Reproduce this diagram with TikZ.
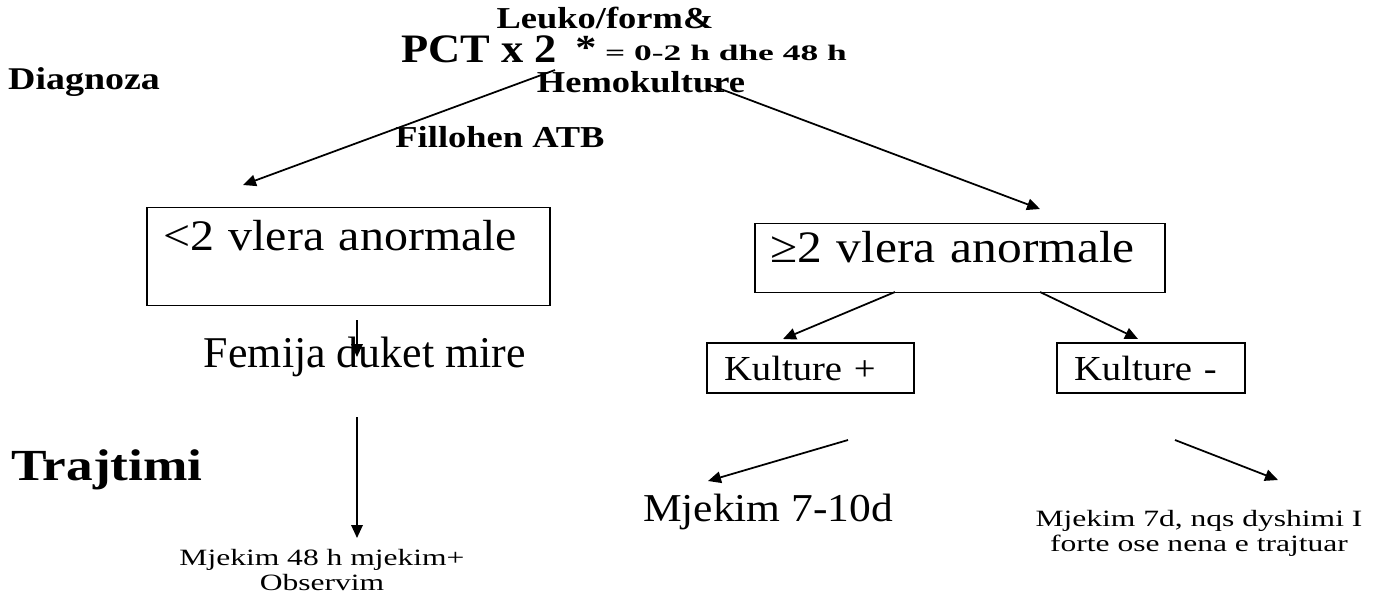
\documentclass[tikz,border=0pt]{standalone}
\usepackage{fontspec}
\setmainfont{Liberation Serif}
\newfontfamily\labelfont[FakeStretch=1.2]{Liberation Serif}
\newfontfamily\notefont[FakeStretch=1.35]{Liberation Serif}
\newfontfamily\wideserif[FakeStretch=1.6]{Liberation Serif}
\newfontfamily\midserif[FakeStretch=1.1]{Liberation Serif}
\usetikzlibrary{arrows.meta,positioning,calc}

\begin{document}
\begin{tikzpicture}[x=0.02cm, y=-0.02cm,
    head/.style={font=\labelfont\bfseries\fontsize{17.3}{20}\selectfont, inner sep=0pt},
    note/.style={font=\notefont\fontsize{13.3}{14.2}\selectfont, align=center, inner sep=0pt},
    boxtxt/.style={font=\midserif\fontsize{24.8}{28}\selectfont, align=left},
    frame/.style={draw, line width=0.85pt},
    kbox/.style={frame, font=\midserif\fontsize{20}{23}\selectfont, align=left,
                 inner xsep=0.34cm, minimum height=1cm},
    arr/.style={-{Triangle[length=2.6mm,width=2.3mm]}, line width=1pt}]
    \useasboundingbox (0,0) rectangle (1378,595);
    % Header
    \node[head] (leuko) at (605,18) {Leuko/form\&};
    \node[head, font=\midserif\bfseries\fontsize{23}{25}\selectfont] (pct) at (479,49) {PCT x 2};
    \node[head, font=\labelfont\bfseries\fontsize{20}{22}\selectfont] (star) at (586,48) {*};
    \node[head, font=\wideserif\bfseries\fontsize{12.6}{14}\selectfont] (koha) at (726,53) {= 0-2 h dhe 48 h};
    \node[head, font=\labelfont\bfseries\fontsize{18}{20}\selectfont] (diag) at (84,82) {Diagnoza};
    \node[head] (hemo) at (641,82) {Hemokulture};
    \node[head] (atb) at (500,137) {Fillohen ATB};
    \node[head, font=\labelfont\bfseries\fontsize{25.3}{28}\selectfont] (trajt) at (107,470) {Trajtimi};
    % Left branch
    \node[frame, boxtxt, text width=7.42cm, inner xsep=0.32cm, text height=0.68cm,
          text depth=0.92cm, inner ysep=0.18cm, anchor=north] (low) at (348.5,207) {<2 vlera anormale};
    \node[font=\fontsize{25}{30}\selectfont, inner sep=0pt] (femija) at (365,357) {Femija duket mire};
    \node[note] (obs) at (322,570) {Mjekim 48 h mjekim+\\Observim};
    % Right branch
    \node[frame, boxtxt, font=\midserif\fontsize{25.6}{28}\selectfont, text width=7.6cm,
          inner xsep=0.3cm, text height=0.59cm, text depth=0.41cm, inner ysep=0.19cm,
          anchor=north] (high) at (960,223) {≥2 vlera anormale};
    \node[kbox, text width=3.46cm] (kplus) at (810.5,368) {Kulture +};
    \node[kbox, text width=3.08cm] (kminus) at (1151,368) {Kulture -};
    \node[font=\midserif\fontsize{22.5}{26}\selectfont, inner sep=0pt] (m710) at (768,512) {Mjekim 7-10d};
    \node[note] (m7) at (1199,533) {Mjekim 7d, nqs dyshimi I\\forte ose nena e trajtuar};
    % Connectors
    \coordinate (a1) at (555,70);   \coordinate (b1) at (243,185);
    \coordinate (a2) at (710,85);   \coordinate (b2) at (1040,209);
    \coordinate (a3) at (357,320);
    \coordinate (a4) at (357,417);  \coordinate (b4) at (357,538);
    \coordinate (a5) at (895,292);  \coordinate (b5) at (783,339);
    \coordinate (a6) at (1040,292); \coordinate (b6) at (1138,339);
    \coordinate (a7) at (848,440);  \coordinate (b7) at (708,481);
    \coordinate (a8) at (1175,440); \coordinate (b8) at (1278,480);
    \draw[arr] (a1) -- (b1);
    \draw[arr] (a2) -- (b2);
    \draw[arr] (a3) -- (a3 |- femija.center);
    \draw[arr] (a4) -- (b4);
    \draw[arr] (a5) -- (b5);
    \draw[arr] (a6) -- (b6);
    \draw[arr] (a7) -- (b7);
    \draw[arr] (a8) -- (b8);
\end{tikzpicture}
\end{document}
